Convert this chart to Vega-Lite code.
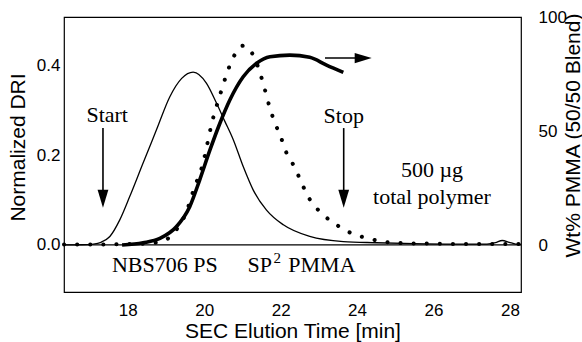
{
  "$schema": "https://vega.github.io/schema/vega-lite/v6.json",
  "autosize": "none",
  "width": 457,
  "height": 275,
  "padding": {"left": 64, "top": 17, "right": 61, "bottom": 50},
  "background": "white",
  "config": {
    "view": {"stroke": "black", "strokeWidth": 1.2},
    "axis": {
      "labelFont": "Liberation Sans", "titleFont": "Liberation Sans",
      "labelFontSize": 17, "titleFontSize": 21, "titleFontWeight": "normal",
      "labelColor": "black", "titleColor": "black",
      "ticks": false, "grid": false, "domain": false
    }
  },
  "datasets": {
    "ps": [
      {"x": 16.33, "y": 0.0}, {"x": 16.8, "y": 0.0005}, {"x": 17.1, "y": 0.002}, {"x": 17.3, "y": 0.006},
      {"x": 17.53, "y": 0.019}, {"x": 17.79, "y": 0.056}, {"x": 18.05, "y": 0.108}, {"x": 18.4, "y": 0.183},
      {"x": 18.75, "y": 0.257}, {"x": 19.1, "y": 0.331}, {"x": 19.41, "y": 0.372}, {"x": 19.71, "y": 0.386},
      {"x": 20.06, "y": 0.361}, {"x": 20.32, "y": 0.317}, {"x": 20.54, "y": 0.276}, {"x": 20.76, "y": 0.235},
      {"x": 21.02, "y": 0.175}, {"x": 21.28, "y": 0.123}, {"x": 21.63, "y": 0.078}, {"x": 22.07, "y": 0.045},
      {"x": 22.76, "y": 0.019}, {"x": 23.64, "y": 0.0075}, {"x": 24.5, "y": 0.005}, {"x": 25.5, "y": 0.003},
      {"x": 26.5, "y": 0.002}, {"x": 27.4, "y": 0.002}, {"x": 27.62, "y": 0.005}, {"x": 27.8, "y": 0.01},
      {"x": 27.98, "y": 0.006}, {"x": 28.15, "y": 0.002}, {"x": 28.29, "y": 0.001}
    ],
    "pmma": [
      {"x": 16.33, "y": 0.001}, {"x": 17.0, "y": 0.001}, {"x": 17.8, "y": 0.002}, {"x": 18.4, "y": 0.003},
      {"x": 18.88, "y": 0.0075}, {"x": 19.27, "y": 0.034}, {"x": 19.52, "y": 0.071}, {"x": 19.75, "y": 0.13},
      {"x": 19.93, "y": 0.171}, {"x": 20.03, "y": 0.205}, {"x": 20.12, "y": 0.242}, {"x": 20.21, "y": 0.276},
      {"x": 20.32, "y": 0.309}, {"x": 20.45, "y": 0.345}, {"x": 20.58, "y": 0.38}, {"x": 20.74, "y": 0.415},
      {"x": 21.02, "y": 0.445}, {"x": 21.32, "y": 0.417}, {"x": 21.46, "y": 0.384}, {"x": 21.59, "y": 0.346},
      {"x": 21.7, "y": 0.311}, {"x": 21.83, "y": 0.277}, {"x": 22.0, "y": 0.242}, {"x": 22.15, "y": 0.206},
      {"x": 22.37, "y": 0.173}, {"x": 22.55, "y": 0.138}, {"x": 22.76, "y": 0.102}, {"x": 23.07, "y": 0.071},
      {"x": 23.46, "y": 0.045}, {"x": 23.86, "y": 0.026}, {"x": 24.27, "y": 0.015}, {"x": 24.68, "y": 0.0075},
      {"x": 25.2, "y": 0.004}, {"x": 26.0, "y": 0.003}, {"x": 27.0, "y": 0.002}, {"x": 28.29, "y": 0.002}
    ],
    "wt": [
      {"x": 17.85, "w": 0.0}, {"x": 18.4, "w": 1.0}, {"x": 18.84, "w": 2.9}, {"x": 19.27, "w": 8.0},
      {"x": 19.62, "w": 16.8}, {"x": 19.88, "w": 28.5}, {"x": 20.15, "w": 41.7}, {"x": 20.41, "w": 53.4},
      {"x": 20.67, "w": 63.6}, {"x": 21.02, "w": 73.8}, {"x": 21.37, "w": 79.7}, {"x": 21.72, "w": 82.6},
      {"x": 22.24, "w": 83.3}, {"x": 22.76, "w": 82.3}, {"x": 23.2, "w": 78.9}, {"x": 23.64, "w": 75.7}
    ],
    "labels": [
      {"x": 17.46, "y": 0.29, "text": "Start"},
      {"x": 23.65, "y": 0.287, "text": "Stop"},
      {"x": 25.96, "y": 0.168, "text": "500 µg"},
      {"x": 25.96, "y": 0.107, "text": "total polymer"},
      {"x": 18.97, "y": -0.045, "text": "NBS706 PS"},
      {"x": 21.45, "y": -0.045, "text": "SP"},
      {"x": 23.08, "y": -0.045, "text": "PMMA"}
    ],
    "sup": [
      {"x": 21.91, "y": -0.029, "text": "2"}
    ],
    "vArrows": [
      {"x": 17.35, "y": 0.261, "y2": 0.11, "head": 0.103},
      {"x": 23.65, "y": 0.261, "y2": 0.11, "head": 0.103}
    ],
    "hArrow": [
      {"x": 23.16, "x2": 24.0, "head": 24.16, "w": 82.0}
    ],
    "base": [{"y": 0}]
  },
  "resolve": {"scale": {"y": "independent"}},
  "layer": [
    {
      "layer": [
        {
          "data": {"name": "base"},
          "mark": {"type": "rule", "color": "black", "strokeWidth": 1.2},
          "encoding": {
            "y": {"field": "y", "type": "quantitative", "scale": {"domain": [-0.105, 0.509], "nice": false, "zero": false},
                  "title": "Normalized DRI",
                  "axis": {"orient": "left", "values": [0, 0.2, 0.4], "format": ".1f", "labelPadding": 4, "titleAngle": -90, "titleX": -46, "titleY": 130, "titleBaseline": "middle", "titleAlign": "center"}}
          }
        },
        {
          "data": {"name": "ps"},
          "mark": {"type": "line", "color": "black", "strokeWidth": 1.3, "interpolate": "monotone"},
          "encoding": {
            "x": {"field": "x", "type": "quantitative", "scale": {"domain": [16.33, 28.29], "nice": false, "zero": false},
                  "title": "SEC Elution Time [min]",
                  "axis": {"values": [18, 20, 22, 24, 26, 28], "labelPadding": 10, "titleY": 39, "titleBaseline": "middle"}},
            "y": {"field": "y", "type": "quantitative", "scale": {"domain": [-0.105, 0.509], "nice": false, "zero": false},
                  "title": "Normalized DRI",
                  "axis": {"orient": "left", "values": [0, 0.2, 0.4], "format": ".1f", "labelPadding": 4, "titleAngle": -90, "titleX": -46, "titleY": 130, "titleBaseline": "middle", "titleAlign": "center"}}
          }
        },
        {
          "data": {"name": "pmma"},
          "mark": {"type": "line", "color": "black", "strokeWidth": 4, "strokeCap": "round", "strokeDash": [0.1, 13], "interpolate": "monotone"},
          "encoding": {
            "x": {"field": "x", "type": "quantitative", "scale": {"domain": [16.33, 28.29], "nice": false, "zero": false}, "title": "SEC Elution Time [min]"},
            "y": {"field": "y", "type": "quantitative", "scale": {"domain": [-0.105, 0.509], "nice": false, "zero": false},
                  "title": "Normalized DRI",
                  "axis": {"orient": "left", "values": [0, 0.2, 0.4], "format": ".1f", "labelPadding": 4, "titleAngle": -90, "titleX": -46, "titleY": 130, "titleBaseline": "middle", "titleAlign": "center"}}
          }
        },
        {
          "data": {"name": "labels"},
          "mark": {"type": "text", "font": "Liberation Serif", "fontSize": 22, "color": "black", "baseline": "middle", "align": "center"},
          "encoding": {
            "x": {"field": "x", "type": "quantitative", "scale": {"domain": [16.33, 28.29], "nice": false, "zero": false}, "title": "SEC Elution Time [min]"},
            "y": {"field": "y", "type": "quantitative", "scale": {"domain": [-0.105, 0.509], "nice": false, "zero": false},
                  "title": "Normalized DRI",
                  "axis": {"orient": "left", "values": [0, 0.2, 0.4], "format": ".1f", "labelPadding": 4, "titleAngle": -90, "titleX": -46, "titleY": 130, "titleBaseline": "middle", "titleAlign": "center"}},
            "text": {"field": "text"}
          }
        },
        {
          "data": {"name": "sup"},
          "mark": {"type": "text", "font": "Liberation Serif", "fontSize": 15, "color": "black", "baseline": "middle", "align": "center"},
          "encoding": {
            "x": {"field": "x", "type": "quantitative", "scale": {"domain": [16.33, 28.29], "nice": false, "zero": false}, "title": "SEC Elution Time [min]"},
            "y": {"field": "y", "type": "quantitative", "scale": {"domain": [-0.105, 0.509], "nice": false, "zero": false},
                  "title": "Normalized DRI",
                  "axis": {"orient": "left", "values": [0, 0.2, 0.4], "format": ".1f", "labelPadding": 4, "titleAngle": -90, "titleX": -46, "titleY": 130, "titleBaseline": "middle", "titleAlign": "center"}},
            "text": {"field": "text"}
          }
        },
        {
          "data": {"name": "vArrows"},
          "mark": {"type": "rule", "color": "black", "strokeWidth": 1.6},
          "encoding": {
            "x": {"field": "x", "type": "quantitative", "scale": {"domain": [16.33, 28.29], "nice": false, "zero": false}, "title": "SEC Elution Time [min]"},
            "y": {"field": "y", "type": "quantitative", "scale": {"domain": [-0.105, 0.509], "nice": false, "zero": false},
                  "title": "Normalized DRI",
                  "axis": {"orient": "left", "values": [0, 0.2, 0.4], "format": ".1f", "labelPadding": 4, "titleAngle": -90, "titleX": -46, "titleY": 130, "titleBaseline": "middle", "titleAlign": "center"}},
            "y2": {"field": "y2"}
          }
        },
        {
          "data": {"name": "vArrows"},
          "mark": {"type": "point", "filled": true, "color": "black", "opacity": 1, "size": 324, "shape": "M-0.6,-1 L0.6,-1 L0,1 Z"},
          "encoding": {
            "x": {"field": "x", "type": "quantitative", "scale": {"domain": [16.33, 28.29], "nice": false, "zero": false}, "title": "SEC Elution Time [min]"},
            "y": {"field": "head", "type": "quantitative", "scale": {"domain": [-0.105, 0.509], "nice": false, "zero": false},
                  "title": "Normalized DRI",
                  "axis": {"orient": "left", "values": [0, 0.2, 0.4], "format": ".1f", "labelPadding": 4, "titleAngle": -90, "titleX": -46, "titleY": 130, "titleBaseline": "middle", "titleAlign": "center"}}
          }
        }
      ]
    },
    {
      "layer": [
        {
          "data": {"name": "wt"},
          "mark": {"type": "line", "color": "black", "strokeWidth": 3.6, "interpolate": "monotone", "strokeCap": "butt"},
          "encoding": {
            "x": {"field": "x", "type": "quantitative", "scale": {"domain": [16.33, 28.29], "nice": false, "zero": false}, "title": "SEC Elution Time [min]"},
            "y": {"field": "w", "type": "quantitative", "scale": {"domain": [-20.6, 100], "nice": false, "zero": false},
                  "title": "Wt% PMMA (50/50 Blend)",
                  "axis": {"orient": "right", "values": [0, 50, 100], "labelPadding": 17, "labelAlign": "left", "titleAngle": -90, "titleX": 52, "titleY": 118, "titleBaseline": "middle", "titleAlign": "center"}}
          }
        },
        {
          "data": {"name": "hArrow"},
          "mark": {"type": "rule", "color": "black", "strokeWidth": 1.6},
          "encoding": {
            "x": {"field": "x", "type": "quantitative", "scale": {"domain": [16.33, 28.29], "nice": false, "zero": false}, "title": "SEC Elution Time [min]"},
            "x2": {"field": "x2"},
            "y": {"field": "w", "type": "quantitative", "scale": {"domain": [-20.6, 100], "nice": false, "zero": false},
                  "title": "Wt% PMMA (50/50 Blend)",
                  "axis": {"orient": "right", "values": [0, 50, 100], "labelPadding": 17, "labelAlign": "left", "titleAngle": -90, "titleX": 52, "titleY": 118, "titleBaseline": "middle", "titleAlign": "center"}}
          }
        },
        {
          "data": {"name": "hArrow"},
          "mark": {"type": "point", "filled": true, "color": "black", "opacity": 1, "size": 289, "shape": "M-1,-0.6 L1,0 L-1,0.6 Z"},
          "encoding": {
            "x": {"field": "head", "type": "quantitative", "scale": {"domain": [16.33, 28.29], "nice": false, "zero": false}, "title": "SEC Elution Time [min]"},
            "y": {"field": "w", "type": "quantitative", "scale": {"domain": [-20.6, 100], "nice": false, "zero": false},
                  "title": "Wt% PMMA (50/50 Blend)",
                  "axis": {"orient": "right", "values": [0, 50, 100], "labelPadding": 17, "labelAlign": "left", "titleAngle": -90, "titleX": 52, "titleY": 118, "titleBaseline": "middle", "titleAlign": "center"}}
          }
        }
      ]
    }
  ]
}
